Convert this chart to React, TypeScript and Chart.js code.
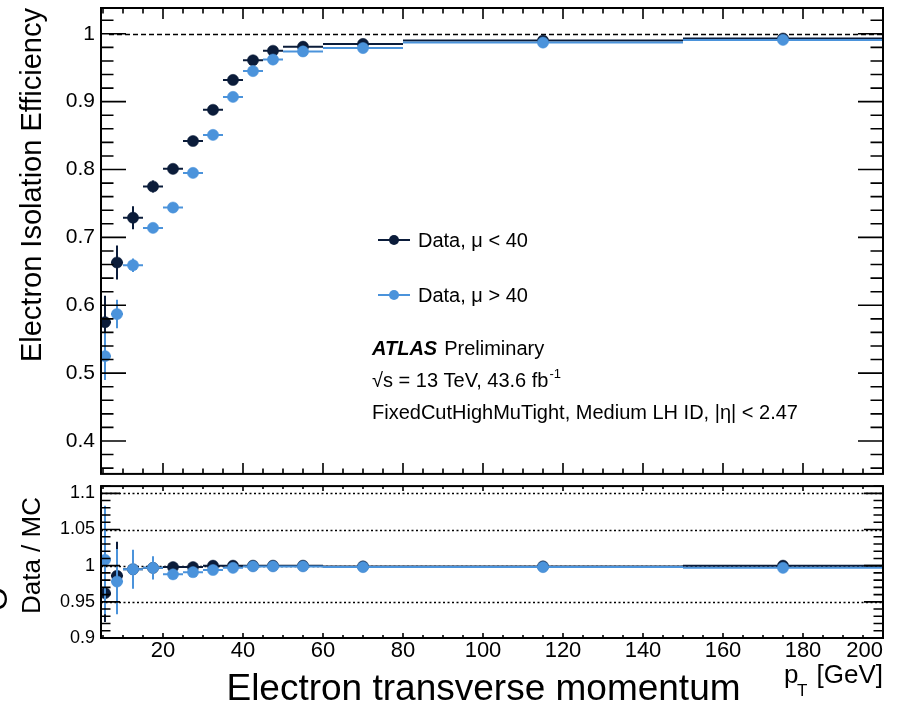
import React, { useEffect, useRef } from 'react';
import { Chart, registerables } from 'chart.js';

Chart.register(...registerables);

const FONT = "'Liberation Sans', Arial, Helvetica, sans-serif";
const DARK = '#0b1c3a';
const LIGHT = '#4b93db';

// pT bin edges [GeV]
const binLow = [4, 7, 10, 15, 20, 25, 30, 35, 40, 45, 50, 60, 80, 150];
const binHigh = [7, 10, 15, 20, 25, 30, 35, 40, 45, 50, 60, 80, 150, 200];

const seriesLabels = ['Data, μ < 40', 'Data, μ > 40'];

// Efficiency, mu < 40
const effMuLow = [0.575, 0.663, 0.729, 0.775, 0.801, 0.842, 0.888, 0.932, 0.961, 0.975, 0.981, 0.985, 0.99, 0.993];
const effMuLowErr = [0.039, 0.025, 0.017, 0.009, 0.007, 0.006, 0.005, 0.005, 0.004, 0.004, 0.003, 0.003, 0.002, 0.002];
// Efficiency, mu > 40
const effMuHigh = [0.525, 0.587, 0.659, 0.714, 0.744, 0.795, 0.851, 0.907, 0.945, 0.962, 0.974, 0.979, 0.987, 0.991];
const effMuHighErr = [0.035, 0.021, 0.01, 0.007, 0.006, 0.005, 0.005, 0.004, 0.004, 0.003, 0.003, 0.003, 0.002, 0.002];

// Data / MC, mu < 40
const ratioMuLow = [0.962, 0.986, 0.995, 0.997, 0.998, 0.998, 1.0, 1.0, 1.0, 1.0, 1.0, 0.999, 0.999, 1.0];
const ratioMuLowErr = [0.04, 0.047, 0.02, 0.012, 0.004, 0.004, 0.003, 0.003, 0.003, 0.003, 0.002, 0.002, 0.002, 0.002];
// Data / MC, mu > 40
const ratioMuHigh = [1.008, 0.978, 0.995, 0.997, 0.988, 0.991, 0.994, 0.997, 0.999, 0.999, 0.999, 0.998, 0.998, 0.997];
const ratioMuHighErr = [0.075, 0.045, 0.027, 0.016, 0.005, 0.004, 0.004, 0.003, 0.003, 0.003, 0.002, 0.002, 0.002, 0.002];

const xTicks = [20, 40, 60, 80, 100, 120, 140, 160, 180, 200];
const yTicksEff = [0.4, 0.5, 0.6, 0.7, 0.8, 0.9, 1];
const yTicksRatio = [0.9, 0.95, 1, 1.05, 1.1];

const X_MIN = 4.5;
const X_MAX = 200;
const EFF_MIN = 0.3515;
const EFF_MAX = 1.038;
const RATIO_MIN = 0.9;
const RATIO_MAX = 1.11;

const centers = binLow.map((lo, i) => (lo + binHigh[i]) / 2);

const fmt = (v: number) => String(Number(Number(v).toFixed(3)));

function makeDataset(label: string, values: number[], errs: number[], color: string, order: number) {
  return {
    label,
    data: centers.map((x, i) => ({ x, y: values[i] })),
    errY: errs,
    xLow: binLow,
    xHigh: binHigh,
    backgroundColor: color,
    borderColor: color,
    pointRadius: 5.6,
    pointHoverRadius: 5.6,
    pointBorderWidth: 0.5,
    showLine: false,
    order,
  };
}

const errorBarPlugin = {
  id: 'errorBars',
  beforeDatasetDraw(chart: any, args: any) {
    const ds = chart.data.datasets[args.index];
    const xs = chart.scales.x;
    const ys = chart.scales.y;
    const ctx = chart.ctx;
    const a = chart.chartArea;
    ctx.save();
    ctx.beginPath();
    ctx.rect(a.left, a.top, a.right - a.left, a.bottom - a.top);
    ctx.clip();
    ctx.strokeStyle = ds.borderColor;
    ctx.lineWidth = 2;
    ds.data.forEach((p: any, i: number) => {
      const px = xs.getPixelForValue(p.x);
      const py = ys.getPixelForValue(p.y);
      ctx.beginPath();
      ctx.moveTo(xs.getPixelForValue(ds.xLow[i]), py);
      ctx.lineTo(xs.getPixelForValue(ds.xHigh[i]), py);
      ctx.moveTo(px, ys.getPixelForValue(p.y - ds.errY[i]));
      ctx.lineTo(px, ys.getPixelForValue(p.y + ds.errY[i]));
      ctx.stroke();
    });
    ctx.restore();
  },
};

function makeFramePlugin(cfg: any) {
  return {
    id: 'rootFrame',
    beforeDatasetsDraw(chart: any) {
      const { ctx, chartArea: a } = chart;
      const y = chart.scales.y;
      ctx.save();
      ctx.strokeStyle = '#000';
      ctx.lineWidth = cfg.refWidth;
      ctx.setLineDash(cfg.refDash);
      cfg.refLines.forEach((v: number) => {
        const py = Math.round(y.getPixelForValue(v)) + 0.5;
        ctx.beginPath();
        ctx.moveTo(a.left + cfg.refStart, py);
        ctx.lineTo(a.right, py);
        ctx.stroke();
      });
      ctx.restore();
    },
    afterDatasetsDraw(chart: any) {
      const { ctx, chartArea: a } = chart;
      const x = chart.scales.x;
      const y = chart.scales.y;
      ctx.save();
      ctx.strokeStyle = '#000';
      ctx.lineWidth = 1.6;
      ctx.beginPath();
      for (let k = Math.ceil(X_MIN / 5); k <= Math.floor(X_MAX / 5); k++) {
        const px = x.getPixelForValue(k * 5);
        const len = k % 4 === 0 ? cfg.xMajor : cfg.xMinor;
        ctx.moveTo(px, a.bottom);
        ctx.lineTo(px, a.bottom - len);
        ctx.moveTo(px, a.top);
        ctx.lineTo(px, a.top + len);
      }
      const k0 = Math.ceil(y.min / cfg.yStep - 1e-9);
      const k1 = Math.floor(y.max / cfg.yStep + 1e-9);
      for (let k = k0; k <= k1; k++) {
        const py = y.getPixelForValue(k * cfg.yStep);
        const len = k % cfg.yEvery === 0 ? cfg.yMajor : cfg.yMinor;
        ctx.moveTo(a.left, py);
        ctx.lineTo(a.left + len, py);
        ctx.moveTo(a.right, py);
        ctx.lineTo(a.right - len, py);
      }
      ctx.stroke();
      ctx.lineWidth = 2;
      ctx.strokeRect(a.left, a.top, a.right - a.left, a.bottom - a.top);
      ctx.restore();
    },
  };
}

function rotatedTitle(ctx: any, text: string, x: number, yEnd: number, size: number) {
  ctx.save();
  ctx.translate(x, yEnd);
  ctx.rotate(-Math.PI / 2);
  ctx.font = `${size}px ${FONT}`;
  ctx.textAlign = 'right';
  ctx.textBaseline = 'middle';
  ctx.fillStyle = '#000';
  ctx.fillText(text, 0, 0);
  ctx.restore();
}

const topTextPlugin = {
  id: 'topTexts',
  afterDraw(chart: any) {
    const ctx = chart.ctx;
    rotatedTitle(ctx, 'Electron Isolation Efficiency', 33, 8, 29);
    ctx.save();
    ctx.fillStyle = '#000';
    ctx.textBaseline = 'alphabetic';
    ctx.textAlign = 'left';
    // legend
    const legendY = [240, 295];
    chart.data.datasets.forEach((ds: any, i: number) => {
      const ly = legendY[i];
      ctx.strokeStyle = ds.borderColor;
      ctx.fillStyle = ds.borderColor;
      ctx.lineWidth = 2;
      ctx.beginPath();
      ctx.moveTo(378, ly);
      ctx.lineTo(410, ly);
      ctx.stroke();
      ctx.beginPath();
      ctx.arc(394, ly, 5, 0, Math.PI * 2);
      ctx.fill();
      ctx.fillStyle = '#000';
      ctx.font = `20px ${FONT}`;
      ctx.textBaseline = 'middle';
      ctx.fillText(ds.label, 418, ly + 1);
    });
    ctx.textBaseline = 'alphabetic';
    ctx.font = `italic bold 20px ${FONT}`;
    ctx.fillText('ATLAS', 372, 355);
    const w = ctx.measureText('ATLAS').width;
    ctx.font = `20px ${FONT}`;
    ctx.fillText('Preliminary', 372 + w + 7, 355);
    const line2 = '√s = 13 TeV, 43.6 fb';
    ctx.fillText(line2, 372, 387);
    const w2 = ctx.measureText(line2).width;
    ctx.font = `13px ${FONT}`;
    ctx.fillText('-1', 372 + w2 + 1, 378);
    ctx.font = `20px ${FONT}`;
    ctx.fillText('FixedCutHighMuTight, Medium LH ID, |η| < 2.47', 372, 419);
    ctx.restore();
  },
};

const bottomTextPlugin = {
  id: 'bottomTexts',
  afterDraw(chart: any) {
    const ctx = chart.ctx;
    const a = chart.chartArea;
    const x = chart.scales.x;
    rotatedTitle(ctx, 'Data / MC', 33, 17, 26);
    ctx.save();
    ctx.fillStyle = '#000';
    // clipped glyph at the left edge of the original figure
    ctx.save();
    ctx.translate(7, 119);
    ctx.rotate(-Math.PI / 2);
    ctx.font = `30px ${FONT}`;
    ctx.textAlign = 'center';
    ctx.textBaseline = 'alphabetic';
    ctx.fillText('O', 0, 0);
    ctx.restore();
    // last x label, kept inside the frame
    ctx.font = `22px ${FONT}`;
    ctx.textAlign = 'right';
    ctx.textBaseline = 'middle';
    ctx.fillText(String(X_MAX), x.getPixelForValue(X_MAX), a.bottom + 22 * 1.2 / 2);
    // axis titles
    ctx.textBaseline = 'alphabetic';
    ctx.textAlign = 'center';
    ctx.font = `37px ${FONT}`;
    ctx.fillText('Electron transverse momentum', 483.5, 220);
    ctx.textAlign = 'right';
    ctx.font = `26px ${FONT}`;
    ctx.fillText('[GeV]', 883, 203);
    ctx.textAlign = 'left';
    ctx.fillText('p', 784, 203);
    ctx.font = `17px ${FONT}`;
    ctx.fillText('T', 797, 216);
    ctx.restore();
  },
};

function yAxis(min: number, max: number, ticks: number[], size: number) {
  return {
    type: 'linear',
    position: 'left',
    min,
    max,
    grid: { display: false, drawTicks: false, tickLength: 0 },
    border: { display: false },
    afterBuildTicks: (s: any) => {
      s.ticks = ticks.map((v) => ({ value: v }));
    },
    ticks: {
      color: '#000',
      font: { family: FONT, size },
      padding: 6,
      autoSkip: false,
      callback: (v: any) => fmt(v),
    },
    afterFit: (s: any) => {
      s.width = 101;
      s.paddingTop = 0;
      s.paddingBottom = 0;
      s.paddingLeft = 0;
      s.paddingRight = 0;
    },
  };
}

export default function App() {
  const topRef = useRef<HTMLCanvasElement>(null);
  const botRef = useRef<HTMLCanvasElement>(null);

  useEffect(() => {
    const top = new Chart(topRef.current as HTMLCanvasElement, {
      type: 'scatter',
      data: {
        datasets: [
          makeDataset(seriesLabels[0], effMuLow, effMuLowErr, DARK, 1),
          makeDataset(seriesLabels[1], effMuHigh, effMuHighErr, LIGHT, 0),
        ] as any,
      },
      options: {
        responsive: false,
        animation: false,
        events: [],
        layout: { padding: { left: 0, right: 17, top: 8, bottom: 6 } },
        plugins: { legend: { display: false }, tooltip: { enabled: false } },
        scales: {
          x: { type: 'linear', min: X_MIN, max: X_MAX, display: false },
          y: yAxis(EFF_MIN, EFF_MAX, yTicksEff, 21),
        } as any,
      },
      plugins: [
        errorBarPlugin,
        makeFramePlugin({
          refLines: [1],
          refDash: [5, 3],
          refWidth: 1.5,
          refStart: 8,
          xMajor: 11,
          xMinor: 5.5,
          yStep: 0.02,
          yEvery: 5,
          yMajor: 25,
          yMinor: 12.5,
        }),
        topTextPlugin,
      ],
    });

    const bottom = new Chart(botRef.current as HTMLCanvasElement, {
      type: 'scatter',
      data: {
        datasets: [
          makeDataset(seriesLabels[0], ratioMuLow, ratioMuLowErr, DARK, 1),
          makeDataset(seriesLabels[1], ratioMuHigh, ratioMuHighErr, LIGHT, 0),
        ] as any,
      },
      options: {
        responsive: false,
        animation: false,
        events: [],
        layout: { padding: { left: 0, right: 17, top: 6, bottom: 0 } },
        plugins: { legend: { display: false }, tooltip: { enabled: false } },
        scales: {
          x: {
            type: 'linear',
            position: 'bottom',
            min: X_MIN,
            max: X_MAX,
            grid: { display: false, drawTicks: false, tickLength: 0 },
            border: { display: false },
            afterBuildTicks: (s: any) => {
              s.ticks = xTicks.map((v) => ({ value: v }));
            },
            ticks: {
              color: '#000',
              font: { family: FONT, size: 22 },
              padding: 0,
              maxRotation: 0,
              autoSkip: false,
              callback: (v: any) => (Number(v) === X_MAX ? '' : String(v)),
            },
            afterFit: (s: any) => {
              s.height = 66;
              s.paddingLeft = 0;
              s.paddingRight = 0;
            },
          },
          y: yAxis(RATIO_MIN, RATIO_MAX, yTicksRatio, 18),
        } as any,
      },
      plugins: [
        errorBarPlugin,
        makeFramePlugin({
          refLines: [0.95, 1, 1.05, 1.1],
          refDash: [2, 2.5],
          refWidth: 1.4,
          refStart: 0,
          xMajor: 5,
          xMinor: 3,
          yStep: 0.01,
          yEvery: 5,
          yMajor: 19,
          yMinor: 9.5,
        }),
        bottomTextPlugin,
      ],
    });

    return () => {
      top.destroy();
      bottom.destroy();
    };
  }, []);

  return (
    <div style={{ position: 'fixed', left: 0, top: 0, width: 900, height: 704, background: '#fff', overflow: 'hidden' }}>
      <canvas ref={topRef} width={900} height={480} style={{ position: 'absolute', left: 0, top: 0, width: 900, height: 480 }} />
      <canvas ref={botRef} width={900} height={224} style={{ position: 'absolute', left: 0, top: 480, width: 900, height: 224 }} />
    </div>
  );
}
